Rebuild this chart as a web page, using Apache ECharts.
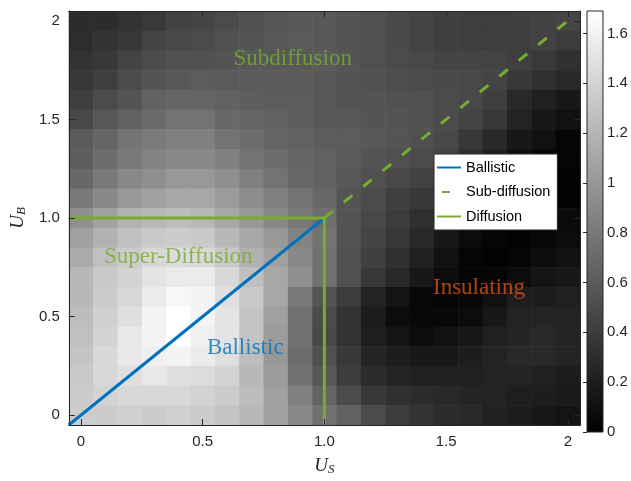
<!DOCTYPE html>
<html><head><meta charset="utf-8">
<script src="https://cdn.jsdelivr.net/npm/echarts@6/dist/echarts.min.js"></script>
<style>html,body{margin:0;padding:0;background:#fff}#c{width:631px;height:481px}</style>
</head><body><div id="c"></div>
<script>
// U_S (columns) and U_B (rows, top to bottom)
const usValues = [0,0.1,0.2,0.3,0.4,0.5,0.6,0.7,0.8,0.9,1.0,1.1,1.2,1.3,1.4,1.5,1.6,1.7,1.8,1.9,2.0];
const ubValues = [2.0,1.9,1.8,1.7,1.6,1.5,1.4,1.3,1.2,1.1,1.0,0.9,0.8,0.7,0.6,0.5,0.4,0.3,0.2,0.1,0];

// cell values, one row per U_B (top row U_B = 2.0)
const r20 = [0.29,0.29,0.34,0.38,0.44,0.46,0.50,0.54,0.57,0.58,0.58,0.56,0.53,0.49,0.45,0.42,0.41,0.41,0.42,0.44,0.46];
const r19 = [0.30,0.34,0.37,0.45,0.48,0.50,0.54,0.56,0.58,0.60,0.58,0.56,0.53,0.49,0.45,0.42,0.41,0.41,0.42,0.44,0.40];
const r18 = [0.34,0.37,0.45,0.50,0.53,0.54,0.56,0.58,0.58,0.58,0.60,0.56,0.53,0.50,0.48,0.45,0.45,0.45,0.42,0.38,0.32];
const r17 = [0.37,0.42,0.50,0.56,0.58,0.61,0.60,0.60,0.60,0.60,0.58,0.56,0.54,0.52,0.50,0.49,0.48,0.45,0.37,0.32,0.27];
const r16 = [0.42,0.50,0.56,0.65,0.67,0.67,0.64,0.62,0.61,0.61,0.58,0.56,0.56,0.54,0.53,0.50,0.48,0.42,0.27,0.21,0.16];
const r15 = [0.48,0.58,0.65,0.70,0.76,0.76,0.69,0.67,0.64,0.61,0.58,0.58,0.56,0.56,0.54,0.50,0.45,0.37,0.23,0.16,0.11];
const r14 = [0.60,0.67,0.76,0.81,0.85,0.85,0.76,0.72,0.67,0.64,0.61,0.61,0.58,0.56,0.53,0.48,0.37,0.27,0.16,0.11,0.04];
const r13 = [0.62,0.72,0.80,0.86,0.90,0.90,0.85,0.76,0.72,0.67,0.64,0.60,0.56,0.53,0.50,0.45,0.32,0.21,0.11,0.05,0.03];
const r12 = [0.69,0.80,0.90,0.95,1.01,1.01,0.95,0.85,0.76,0.69,0.65,0.58,0.53,0.48,0.44,0.38,0.27,0.16,0.05,0.03,0.01];
const r11 = [0.80,0.90,1.01,1.07,1.11,1.11,1.03,0.93,0.85,0.76,0.69,0.56,0.50,0.42,0.37,0.32,0.21,0.11,0.03,0.01,0.01];
const r10 = [0.95,1.07,1.18,1.22,1.25,1.22,1.11,1.01,0.90,0.80,0.72,0.56,0.48,0.40,0.32,0.24,0.16,0.05,0.03,0.05,0.07];
const r09 = [1.06,1.17,1.27,1.33,1.35,1.33,1.22,1.11,1.01,0.87,0.76,0.56,0.45,0.37,0.27,0.16,0.08,0.03,0.01,0.05,0.08];
const r08 = [1.13,1.27,1.35,1.43,1.46,1.43,1.33,1.17,1.06,0.90,0.74,0.53,0.42,0.32,0.21,0.11,0.03,0.01,0.03,0.08,0.11];
const r07 = [1.22,1.33,1.40,1.51,1.56,1.56,1.43,1.27,1.11,0.95,0.74,0.53,0.37,0.27,0.16,0.08,0.03,0.03,0.08,0.13,0.16];
const r06 = [1.22,1.35,1.43,1.56,1.64,1.62,1.48,1.33,1.11,0.80,0.56,0.40,0.23,0.13,0.05,0.03,0.05,0.11,0.19,0.19,0.21];
const r05 = [1.25,1.38,1.48,1.62,1.69,1.62,1.51,1.30,1.06,0.74,0.50,0.34,0.19,0.08,0.05,0.05,0.08,0.16,0.23,0.24,0.23];
const r04 = [1.27,1.40,1.54,1.62,1.69,1.59,1.51,1.30,1.03,0.74,0.48,0.34,0.20,0.13,0.08,0.11,0.16,0.21,0.24,0.27,0.24];
const r03 = [1.30,1.43,1.54,1.59,1.62,1.56,1.48,1.25,1.01,0.72,0.53,0.37,0.24,0.19,0.16,0.16,0.19,0.23,0.27,0.27,0.24];
const r02 = [1.33,1.43,1.48,1.54,1.48,1.46,1.40,1.22,1.03,0.74,0.58,0.40,0.29,0.24,0.21,0.21,0.21,0.23,0.24,0.21,0.19];
const r01 = [1.35,1.40,1.43,1.43,1.43,1.40,1.35,1.25,1.06,0.85,0.66,0.50,0.37,0.32,0.29,0.27,0.24,0.23,0.20,0.19,0.17];
const r00 = [1.35,1.35,1.38,1.35,1.38,1.35,1.30,1.22,1.06,0.90,0.74,0.64,0.50,0.40,0.34,0.29,0.27,0.21,0.19,0.16,0.13];
const heatRows = [r20,r19,r18,r17,r16,r15,r14,r13,r12,r11,r10,r09,r08,r07,r06,r05,r04,r03,r02,r01,r00];

const cellSize = 0.1;
const axisMin = -0.05, axisMax = 2.05;
const xTicks = [0,0.5,1,1.5,2];
const yTicks = [0,0.5,1,1.5,2];
const cbRange = [0,1.69];
const cbTicks = [0,0.2,0.4,0.6,0.8,1,1.2,1.4,1.6];

// phase boundaries
const ballisticX = [-0.05,1], ballisticY = [-0.05,1];
const subX = [1,2], subY = [1,2];
const diffX = [-0.05,1,1], diffY = [1,1,-0.05];

// region annotations
const regionNames = ['Subdiffusion','Super-Diffusion','Ballistic','Insulating'];
const regionX = [0.87,0.40,0.675,1.635];
const regionY = [1.805,0.80,0.34,0.645];
const regionColors = ['#77AC30','#77AC30','#0072BD','#D95319'];

const heat = [];
ubValues.forEach((ub, j) => usValues.forEach((us, i) => heat.push([us, ub, heatRows[j][i]])));
const zip = (a, b) => a.map((v, i) => [v, b[i]]);
const fmt = v => (v === 1 ? '1.0' : String(v));

const AX = '#262626';
const sans = 'Liberation Sans';
const serif = 'Liberation Serif';
const nameRich = {
  u: {fontFamily: serif, fontStyle: 'italic', fontSize: 19, color: AX},
  s: {fontFamily: serif, fontStyle: 'italic', fontSize: 13, color: AX, verticalAlign: 'bottom', padding: [8,0,0,0]}
};
const frameAxis = (extra) => Object.assign({
  gridIndex: 0, type: 'value', min: axisMin, max: axisMax, z: 10,
  axisLine: {show: true, onZero: false, lineStyle: {color: AX, width: 1}},
  splitLine: {show: false}
}, extra);
const noSymbol = {opacity: 0};

const chart = echarts.init(document.getElementById('c'), null, {renderer: 'canvas'});
chart.setOption({
  animation: false,
  backgroundColor: '#fff',
  grid: [
    {left: 65, right: 51, top: 11, bottom: 49},
    {left: 587, width: 16, top: 11, bottom: 49}
  ],
  visualMap: {show: false, seriesIndex: 0, dimension: 2, min: cbRange[0], max: cbRange[1], inRange: {color: ['#000000', '#ffffff']}},
  xAxis: [
    frameAxis({position: 'bottom',
      axisTick: {show: true, inside: true, length: 6, customValues: xTicks, lineStyle: {color: AX}},
      axisLabel: {customValues: xTicks, formatter: fmt, margin: 9, fontFamily: sans, fontSize: 15, color: AX},
      name: '{u|U}{s|S}', nameLocation: 'middle', nameGap: 30, nameTextStyle: {rich: nameRich}}),
    frameAxis({position: 'top',
      axisTick: {show: true, inside: true, length: 6, customValues: xTicks, lineStyle: {color: AX}},
      axisLabel: {show: false}}),
    {gridIndex: 1, type: 'value', min: 0, max: 1, show: false}
  ],
  yAxis: [
    frameAxis({position: 'left',
      axisTick: {show: true, inside: true, length: 6, customValues: yTicks, lineStyle: {color: AX}},
      axisLabel: {customValues: yTicks, formatter: fmt, margin: 9, fontFamily: sans, fontSize: 15, color: AX},
      name: '{u|U}{s|B}', nameLocation: 'middle', nameGap: 38, nameRotate: 90, nameTextStyle: {rich: nameRich}}),
    frameAxis({position: 'right',
      axisTick: {show: true, inside: true, length: 6, customValues: yTicks, lineStyle: {color: AX}},
      axisLabel: {show: false}}),
    {gridIndex: 1, type: 'value', min: cbRange[0], max: cbRange[1], position: 'right', z: 10,
      axisLine: {show: false}, splitLine: {show: false},
      axisTick: {show: true, inside: true, length: 4, customValues: cbTicks, lineStyle: {color: AX}},
      axisLabel: {customValues: cbTicks, margin: 4, fontFamily: sans, fontSize: 15, color: AX}}
  ],
  legend: {
    orient: 'vertical', left: 434, top: 154,
    backgroundColor: '#fff', borderColor: AX, borderWidth: 1, borderRadius: 0,
    padding: [6, 7, 6, 2], itemWidth: 24, itemHeight: 14, itemGap: 9.5,
    itemStyle: noSymbol,
    textStyle: {fontFamily: sans, fontSize: 14.5, color: '#000'},
    data: [
      {name: 'Ballistic', itemStyle: noSymbol},
      {name: 'Sub-diffusion', itemStyle: noSymbol, lineStyle: {type: [8, 40], dashOffset: -5}},
      {name: 'Diffusion', itemStyle: noSymbol}
    ]
  },
  series: [
    {type: 'custom', xAxisIndex: 0, yAxisIndex: 0, z: 1, data: heat, encode: {x: 0, y: 1},
      renderItem: (params, api) => {
        const x = api.value(0), y = api.value(1);
        const p1 = api.coord([x - cellSize / 2, y + cellSize / 2]);
        const p2 = api.coord([x + cellSize / 2, y - cellSize / 2]);
        return {type: 'rect', shape: {x: p1[0], y: p1[1], width: p2[0] - p1[0] + 0.6, height: p2[1] - p1[1] + 0.6},
          style: {fill: api.visual('color')}};
      }},
    {name: 'Ballistic', type: 'line', xAxisIndex: 0, yAxisIndex: 0, z: 4, symbol: 'none', data: zip(ballisticX, ballisticY),
      color: '#0072BD', lineStyle: {color: '#0072BD', width: 3}},
    {name: 'Sub-diffusion', type: 'line', xAxisIndex: 0, yAxisIndex: 0, z: 4, symbol: 'none', data: zip(subX, subY),
      color: '#77AC30', lineStyle: {color: '#77AC30', width: 3, type: [11, 14]}},
    {name: 'Diffusion', type: 'line', xAxisIndex: 0, yAxisIndex: 0, z: 4, symbol: 'none', data: zip(diffX, diffY),
      color: '#77AC30', lineStyle: {color: '#77AC30', width: 3}},
    {type: 'scatter', xAxisIndex: 0, yAxisIndex: 0, z: 5, symbolSize: 0, silent: true,
      data: regionNames.map((n, i) => ({name: n, value: [regionX[i], regionY[i]],
        label: {show: true, position: 'inside', formatter: '{b}', color: regionColors[i], fontFamily: serif, fontSize: 23}}))},
    {type: 'custom', xAxisIndex: 2, yAxisIndex: 2, z: 2, data: [[0, cbRange[0], 1, cbRange[1]]],
      renderItem: (params, api) => {
        const p1 = api.coord([api.value(0), api.value(3)]);
        const p2 = api.coord([api.value(2), api.value(1)]);
        return {type: 'rect', shape: {x: p1[0], y: p1[1], width: p2[0] - p1[0], height: p2[1] - p1[1]},
          style: {fill: new echarts.graphic.LinearGradient(0, 0, 0, 1, [{offset: 0, color: '#ffffff'}, {offset: 1, color: '#000000'}]),
            stroke: AX, lineWidth: 1}};
      }}
  ]
});
</script></body></html>
